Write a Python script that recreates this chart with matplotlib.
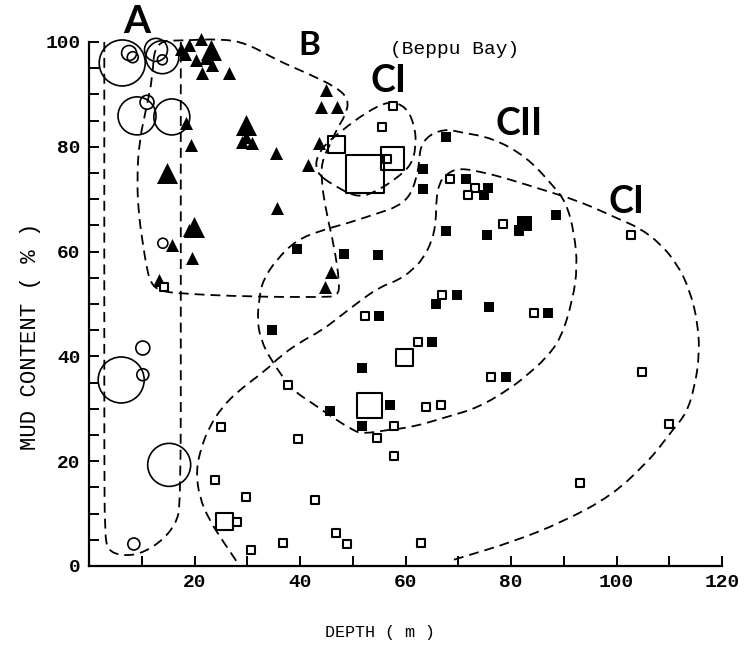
import numpy as np
import matplotlib
matplotlib.use("Agg")
import matplotlib.pyplot as plt
from matplotlib.path import Path
from matplotlib.patches import PathPatch

# ---- data (depth m, mud %) ----
# group A : open circles, diameter encodes relative size
circ_x = [6.3, 7.6, 8.3, 12.7, 13.9, 13.9, 9.1, 11.0, 15.7, 14.0, 6.1, 10.2, 10.2, 15.2, 8.5]
circ_y = [96.0, 97.9, 97.1, 98.5, 97.1, 96.6, 85.9, 88.5, 85.7, 61.6, 35.5, 41.6, 36.5, 19.3, 4.2]
circ_d = [46, 15, 11, 23, 33, 10, 38, 14, 36, 10, 46, 14, 12, 43, 12]

# group B : filled triangles (small / large)
tri_x = [21.3, 17.5, 19.0, 18.2, 20.3, 22.2, 21.4, 23.3, 26.6, 45.0, 44.0, 47.0,
         18.4, 19.4, 29.8, 29.0, 30.9, 35.5, 43.6, 41.6, 35.7, 19.0, 15.7, 19.5,
         13.3, 45.9, 44.8]
tri_y = [100.6, 98.6, 99.4, 97.8, 96.6, 97.0, 94.0, 95.6, 94.0, 90.8, 87.6, 87.6,
         84.5, 80.3, 81.9, 81.0, 80.7, 78.8, 80.7, 76.5, 68.3, 64.1, 61.3, 58.8,
         54.6, 56.1, 53.2]
big_tri_x = [23.1, 29.8, 14.8, 19.9]
big_tri_y = [98.5, 84.2, 75.0, 64.7]

# group C : open squares
osq_x = [57.7, 55.6, 56.5, 68.5, 73.2, 71.9, 78.4, 81.5, 102.7, 84.4, 67.0, 52.4,
         62.4, 37.8, 76.3, 63.8, 66.8, 57.9, 54.6, 39.7, 57.9, 93.0, 110.0, 104.9,
         42.9, 46.9, 49.0, 63.0, 36.8, 25.0, 23.9, 29.8, 28.1, 30.7, 14.2]
osq_y = [87.8, 83.8, 77.7, 73.9, 72.1, 70.8, 65.3, 64.0, 63.2, 48.3, 51.7, 47.7,
         42.7, 34.5, 36.1, 30.3, 30.7, 26.7, 24.4, 24.2, 21.0, 15.8, 27.1, 37.0,
         12.6, 6.3, 4.2, 4.4, 4.4, 26.5, 16.4, 13.2, 8.4, 3.1, 53.2]
# larger open squares
osq_big_x = [46.9, 59.8, 25.6, 57.5, 53.1, 52.4]
osq_big_y = [80.5, 39.7, 8.4, 77.7, 30.7, 74.8]
osq_big_d = [17, 17, 17, 23, 25, 38]

# filled squares
fsq_x = [63.4, 63.4, 67.7, 71.5, 75.7, 74.8, 67.7, 75.5, 81.5, 88.6, 39.5, 48.4,
         54.8, 75.9, 87.1, 69.8, 65.7, 55.0, 65.1, 51.8, 79.1, 57.1, 45.7, 51.8, 34.7]
fsq_y = [75.8, 72.0, 81.9, 73.9, 72.1, 70.8, 63.9, 63.2, 64.2, 67.0, 60.5, 59.5,
         59.4, 49.4, 48.3, 51.7, 50.0, 47.7, 42.7, 37.8, 36.1, 30.7, 29.6, 26.7, 45.0]
fsq_big_x = [82.5]
fsq_big_y = [65.5]

# ---- hand-drawn group envelopes (traced outlines) ----
env_A = [(2.9, 100), (2.9, 100), (2.9, 60), (2.9, 20), (3.0, 6), (3.6, 3.0), (6.0, 2.0),
         (9.5, 2.2), (13.5, 4.5), (16.5, 8.0), (17.4, 12), (17.4, 50), (17.4, 100), (17.4, 100)]
env_B = [(12.5, 100.2), (18, 100.3), (25, 100.6), (29.8, 99.8), (35.5, 96.6), (41.2, 94.1),
         (46.9, 91.4), (49.3, 89.0), (48.6, 86.0), (47.1, 83.6), (45.5, 80.0), (44.2, 77.5),
         (44.0, 73.7), (45.0, 67.4), (46.5, 60.9), (47.5, 54.0), (47.2, 51.5), (44, 51.3),
         (30, 51.4), (17, 52.0), (13.5, 52.5), (11.8, 53.8), (11.0, 56.5), (10.1, 62.2),
         (9.4, 67.4), (9.1, 73.7), (9.5, 81), (11, 88), (12, 93)]
env_C1 = [(42.7, 75.2), (43.6, 79.4), (48, 83.2), (52.6, 86.6), (56.9, 88.8), (60.2, 87.6),
          (61.8, 83.8), (62.0, 80), (61.1, 76.5), (58.3, 74), (55, 71.8), (51.2, 70.2),
          (46.9, 72.3)]
env_C2 = [(64.5, 82.3), (67.7, 83.4), (70.2, 82.8), (76.5, 81.7), (82.9, 78.1), (87.9, 72.7),
          (90.5, 69.3), (92.0, 63.5), (92.6, 57.1), (91.7, 50.8), (89.5, 43.5), (86.5, 39.5),
          (83.1, 36.5), (80.3, 34.2), (74, 30.3), (67.7, 28.4), (61.3, 26.5), (56.9, 26.0),
          (51.8, 25.2), (49.9, 26.0), (46.1, 28.4), (42.3, 31.1), (38.5, 33.6), (34.5, 39.3),
          (32.6, 43.1), (31.9, 46.9), (32.3, 51.3), (33.0, 54.6), (35.5, 58.4), (39.3, 62.2),
          (44.2, 64.1), (49.3, 65.5), (55, 67.4), (58.3, 68.5), (60.7, 70.4), (62.0, 73.7),
          (62.6, 76.9), (62.8, 80)]
env_C1b = [(27.9, 1.0), (25.2, 5.0), (22.8, 8.8), (20.9, 13.2), (20.3, 18.3), (21.3, 22.7),
           (22.8, 26.5), (25.2, 30.3), (28.5, 33.6), (33.6, 37.4), (36.1, 39.9), (39.8, 42.6),
           (44.2, 45.0), (47.4, 47.5), (51, 50.3), (55.0, 53.2), (58.8, 54.6), (61.3, 56.5),
           (63.3, 58.6), (65.1, 62.2), (65.8, 66), (65.8, 69.8), (66.4, 73.1), (67.7, 74.8),
           (70.2, 76.0), (75.3, 75.0), (80.0, 73.7), (86, 71.8), (91.1, 70.2), (95.5, 68.5),
           (100, 66.4), (104.4, 64.5), (108.2, 61.6), (111.4, 57.8), (113.9, 52.7),
           (115.5, 46.0), (115.7, 39.9), (114.8, 34.2), (113.3, 29.2), (110.6, 25.9),
           (108.2, 22.7), (105.7, 19.7), (99.2, 13.5), (89.8, 8.4), (80.3, 4.6), (70.8, 1.7),
           (68.5, 1.0)]


def smooth_path(pts, closed):
    pts = np.asarray(pts, dtype=float)
    if closed:
        mids = (pts + np.roll(pts, -1, axis=0)) / 2
        verts = [mids[-1]]
        codes = [Path.MOVETO]
        for i in range(len(pts)):
            verts += [pts[i], mids[i]]
            codes += [Path.CURVE3, Path.CURVE3]
    else:
        verts = [pts[0]]
        codes = [Path.MOVETO]
        for i in range(1, len(pts) - 1):
            verts += [pts[i], (pts[i] + pts[i + 1]) / 2]
            codes += [Path.CURVE3, Path.CURVE3]
        verts.append(pts[-1])
        codes.append(Path.LINETO)
    return Path(verts, codes)


fig = plt.figure(figsize=(7.44, 6.45), dpi=100)
ax = fig.add_axes([89 / 744, 79 / 645, 633 / 744, 524 / 645])
ax.set_xlim(0, 120)
ax.set_ylim(0, 100)

dash = (0, (5.5, 3.3))
for pts, closed in [(env_A, False), (env_B, True), (env_C1, True), (env_C2, True), (env_C1b, False)]:
    ax.add_patch(PathPatch(smooth_path(pts, closed), fill=False, ec="black", lw=1.3,
                           ls=dash, clip_on=False))

pt = 0.72  # points per original pixel
ax.scatter(circ_x, circ_y, s=[(d * pt) ** 2 for d in circ_d], marker="o",
           facecolors="none", edgecolors="black", linewidths=1.2, clip_on=False, zorder=3)
ax.scatter(tri_x, tri_y, s=(13 * pt) ** 2, marker="^", color="black", lw=0, clip_on=False, zorder=3)
ax.scatter(big_tri_x, big_tri_y, s=(21 * pt) ** 2, marker="^", color="black", lw=0, clip_on=False, zorder=3)
ax.scatter(osq_x, osq_y, s=(8.5 * pt) ** 2, marker="s", facecolors="white",
           edgecolors="black", linewidths=1.5, clip_on=False, zorder=4)
ax.scatter(osq_big_x, osq_big_y, s=[(d * pt) ** 2 for d in osq_big_d], marker="s",
           facecolors="none", edgecolors="black", linewidths=1.5, clip_on=False, zorder=4)
ax.scatter(fsq_x, fsq_y, s=(10.5 * pt) ** 2, marker="s", color="black", lw=0, zorder=4)
ax.scatter(fsq_big_x, fsq_big_y, s=(15 * pt) ** 2, marker="s", color="black", lw=0, zorder=4)

# group labels
lab = dict(fontfamily="Lato", fontweight="bold", ha="center", va="center", color="black")
ax.text(9.1, 104.0, "A", fontsize=28, **lab)
ax.text(41.7, 99.4, "B", fontsize=24, **lab)
ax.text(56.8, 92.5, "CI", fontsize=27, **lab)
ax.text(81.6, 84.3, "CII", fontsize=27, **lab)
ax.text(101.9, 69.5, "CI", fontsize=27, **lab)
ax.text(69.4, 98.6, "(Beppu Bay)", fontsize=14, fontfamily="Liberation Mono",
        ha="center", va="center")

# axes styling
mono = "Liberation Mono"
for side in ["top", "right"]:
    ax.spines[side].set_visible(False)
for side in ["left", "bottom"]:
    ax.spines[side].set_linewidth(1.6)
ax.set_xticks(np.arange(0, 121, 10))
ax.set_xticklabels(["" if (v % 20 or v == 0) else str(v) for v in range(0, 121, 10)])
ax.set_yticks(np.arange(0, 101, 20))
ax.set_yticks(np.arange(0, 101, 5), minor=True)
ax.tick_params(which="both", direction="in", width=1.4, length=7, labelsize=14, pad=6)
for t in ax.get_xticklabels() + ax.get_yticklabels():
    t.set_fontfamily(mono)
    t.set_fontweight("bold")
ax.set_xlabel("DEPTH ( m )", fontfamily=mono, fontsize=12, va="center")
ax.set_ylabel("MUD CONTENT ( % )", fontfamily=mono, fontsize=16, va="center")
ax.xaxis.set_label_coords((380 - 89) / 633, -(632 - 566) / 524)
ax.yaxis.set_label_coords(-(89 - 31) / 633, (566 - 336) / 524)

fig.savefig("out.png", dpi=100)
